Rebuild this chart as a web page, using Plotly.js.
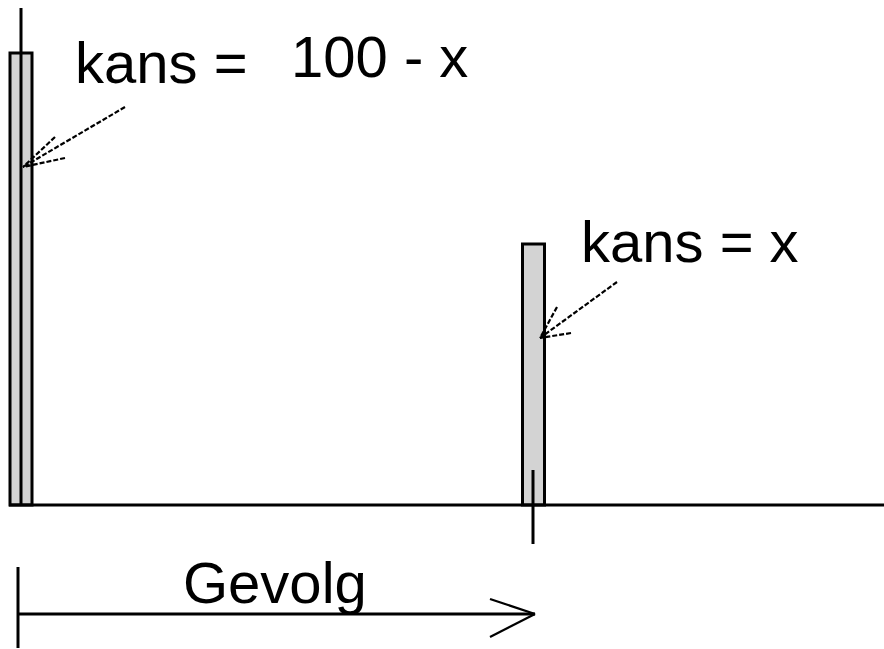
<!DOCTYPE html>
<html>
<head>
<meta charset="utf-8">
<script src="https://cdn.plot.ly/plotly-3.0.1.min.js"></script>
<style>
  html, body { margin: 0; padding: 0; background: #ffffff; }
  #chart { width: 884px; height: 649px; }
</style>
</head>
<body>
<div id="chart"></div>
<script>
// Two outcomes along the "Gevolg" axis with their probabilities
const x = 36.6;
const gevolg = [0, 1];
const kans = [100 - x, x];
const labels = ['kans =', '100 - x', 'kans = x'];
const axisLabel = 'Gevolg';

// Linear scales of the drawing (px per unit)
const W = 884, H = 649;
const x0px = 21, x1px = 533.5;           // pixel position of gevolg 0 and 1
const basePx = 505;                       // pixel row of kans = 0
const unitY = 452 / kans[0];              // px per kans unit
const unitX = x1px - x0px;

const xRange = [-x0px / unitX, (W - x0px) / unitX];
const yRange = [-(H - basePx) / unitY, basePx / unitY];

// helpers: pixel -> data coordinates for decorations
const dx = p => (p - x0px) / unitX;
const dy = p => (basePx - p) / unitY;

function seg(ax, ay, bx, by, w, dash) {
  return {
    type: 'line', xref: 'x', yref: 'y', layer: 'above',
    x0: dx(ax), y0: dy(ay), x1: dx(bx), y1: dy(by),
    line: { color: '#000000', width: w, dash: dash || 'solid' }
  };
}

const ptr = '5px,2px';
const shapes = [
  // vertical axis
  seg(21, 8, 21, 505, 3),
  // horizontal axis
  seg(9, 505, 884, 505, 3),
  // tick under the second outcome
  seg(533, 470, 533, 544, 3),
  // "Gevolg" arrow
  seg(18, 567, 18, 648, 3),
  seg(18, 614, 535, 614, 3),
  seg(490, 599, 535, 614, 2.2),
  seg(490, 637, 535, 614, 2.2),
  // pointer to the first bar
  seg(125, 107, 23, 167, 2.2, ptr),
  seg(55, 137, 23, 167, 2.2, ptr),
  seg(65, 158, 23, 167, 2.2, ptr),
  // pointer to the second bar
  seg(617, 282, 540, 338, 2.2, ptr),
  seg(557, 307, 540, 338, 2.2, ptr),
  seg(571, 333, 540, 338, 2.2, ptr)
];

const font = { family: 'Liberation Sans, Arial, sans-serif', size: 58, color: '#000000' };

function label(text, pxLeft, pxMid) {
  return {
    text: text, showarrow: false, xref: 'x', yref: 'y',
    x: dx(pxLeft), y: dy(pxMid), xanchor: 'left', yanchor: 'middle',
    font: font, borderpad: 0
  };
}

const annotations = [
  label(labels[0], 74, 62),
  label(labels[1], 290, 56),
  label(labels[2], 580, 241),
  label(axisLabel, 182, 582)
];

const trace = {
  type: 'bar',
  x: gevolg,
  y: kans,
  width: [22 / unitX, 22 / unitX],
  marker: { color: '#d3d3d3', line: { color: '#000000', width: 3 } },
  hoverinfo: 'none'
};

const layout = {
  width: W, height: H,
  margin: { l: 0, r: 0, t: 0, b: 0 },
  paper_bgcolor: '#ffffff', plot_bgcolor: '#ffffff',
  showlegend: false,
  xaxis: { range: xRange, visible: false, fixedrange: true },
  yaxis: { range: yRange, visible: false, fixedrange: true },
  shapes: shapes,
  annotations: annotations
};

Plotly.newPlot('chart', [trace], layout, { displayModeBar: false, staticPlot: true });
</script>
</body>
</html>
